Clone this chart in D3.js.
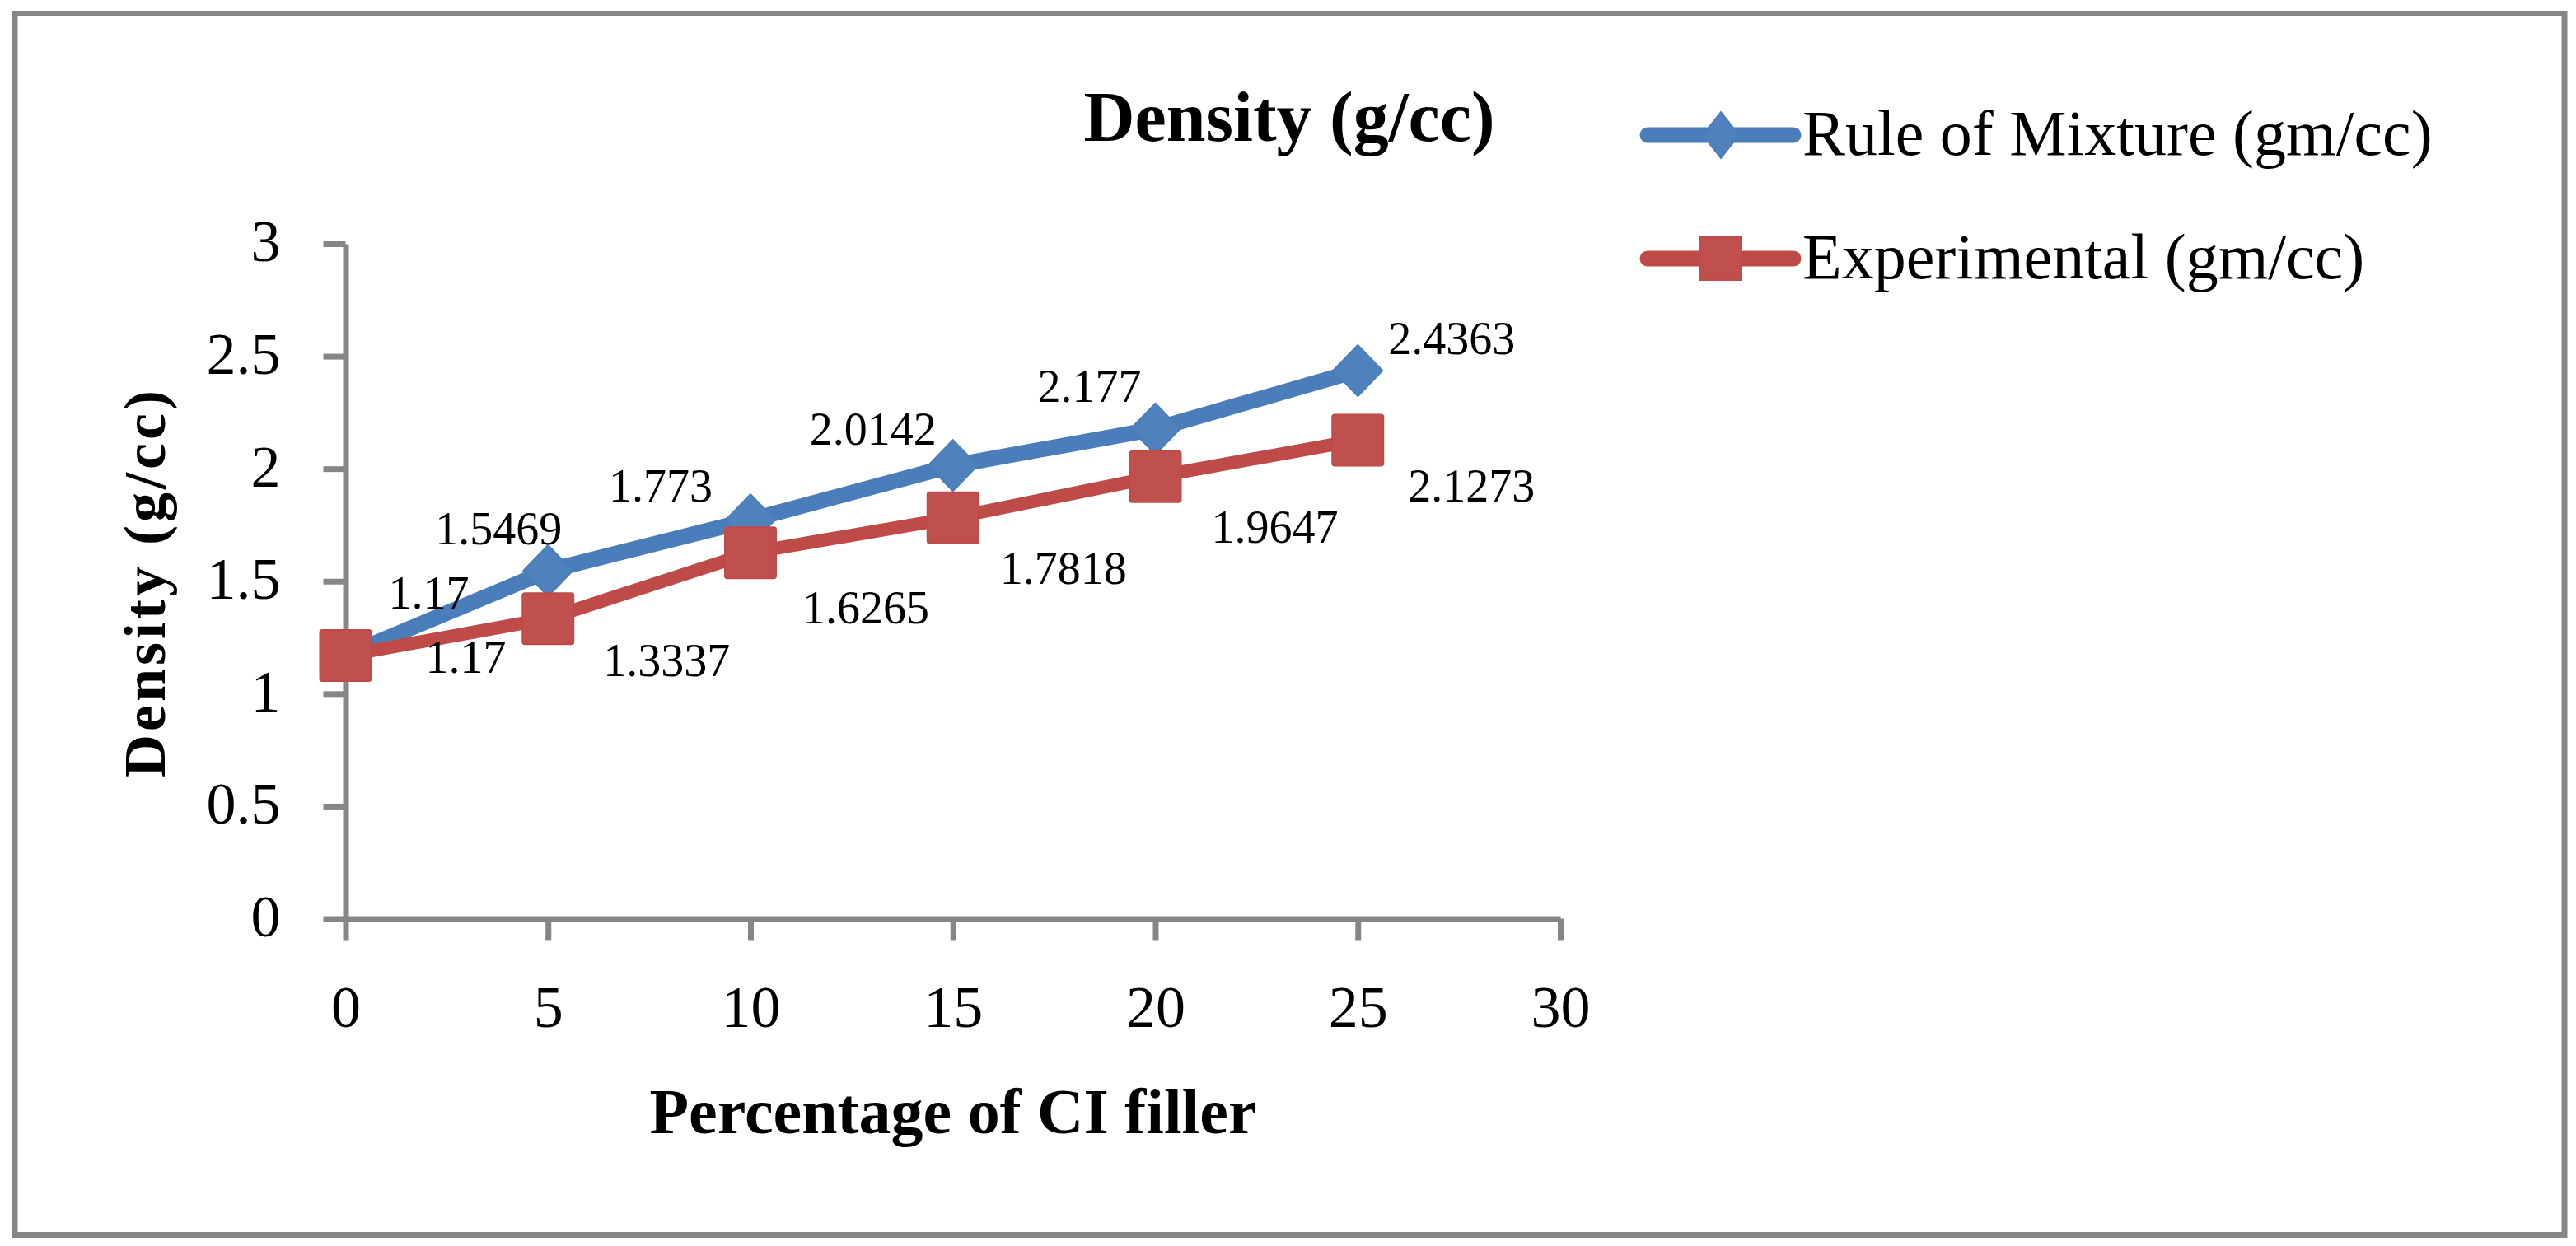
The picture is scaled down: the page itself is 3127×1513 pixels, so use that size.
<!DOCTYPE html>
<html>
<head>
<meta charset="utf-8">
<script src="https://cdn.jsdelivr.net/npm/d3@7"></script>
<style>
    html, body { margin: 0; padding: 0; background: #fff; }
    svg text { font-family: "Liberation Serif", "DejaVu Serif", serif; fill: #000; }
</style>
</head>
<body>
<svg id="chart" width="3127" height="1513"></svg>
<script>
// data
const fillerPercent = [0, 5, 10, 15, 20, 25];
const ruleOfMixture = [1.17, 1.5469, 1.773, 2.0142, 2.177, 2.4363];
const experimental = [1.17, 1.3337, 1.6265, 1.7818, 1.9647, 2.1273];
const seriesNames = ['Rule of Mixture (gm/cc)', 'Experimental (gm/cc)'];
const xTicks = [0, 5, 10, 15, 20, 25, 30];
const yTicks = [0, 0.5, 1, 1.5, 2, 2.5, 3];

// where each data label sits, relative to its point
const mixtureLabelShift = [[101, -57], [-60, -32], [-109, -22], [-97, -25], [-80, -33], [114, -20]];
const experimentalLabelShift = [[146, 21], [144, 70], [140, 86], [134, 80], [145, 80], [138, 75]];

const svg = d3.select('#chart');
const axisColor = '#868686';

const x = d3.scaleLinear().domain([0, 30]).range([419.5, 1894]);
const y = d3.scaleLinear().domain([0, 3]).range([1115.5, 296]);

// outer frame
svg.append('rect')
    .attr('x', 18).attr('y', 16.5)
    .attr('width', 3095).attr('height', 1483)
    .attr('fill', 'none')
    .attr('stroke', axisColor)
    .attr('stroke-width', 7);

// axes
const yAxis = svg.append('g')
    .attr('transform', `translate(${x(0)},0)`)
    .call(d3.axisLeft(y).tickValues(yTicks).tickSize(27).tickSizeOuter(0).tickPadding(52).tickFormat(d3.format('')));

const xAxis = svg.append('g')
    .attr('transform', `translate(0,${y(0)})`)
    .call(d3.axisBottom(x).tickValues(xTicks).tickSize(27).tickSizeOuter(0).tickPadding(0).tickFormat(d3.format('')));

[yAxis, xAxis].forEach(ax => {
    ax.select('.domain').attr('stroke', axisColor).attr('stroke-width', 7);
    ax.selectAll('.tick line').attr('stroke', axisColor).attr('stroke-width', 7);
    ax.selectAll('.tick text')
        .attr('font-family', '"Liberation Serif", serif')
        .attr('font-size', 72)
        .attr('fill', '#000');
});
yAxis.selectAll('.tick text').attr('dy', '0.29em');
xAxis.selectAll('.tick text').attr('dy', null).attr('y', 1247 - y(0));

// titles
svg.append('text')
    .attr('x', 1565).attr('y', 171)
    .attr('text-anchor', 'middle')
    .attr('font-size', 86)
    .attr('font-weight', 'bold')
    .text('Density (g/cc)');

svg.append('text')
    .attr('x', 1157).attr('y', 1376)
    .attr('text-anchor', 'middle')
    .attr('font-size', 78)
    .attr('font-weight', 'bold')
    .text('Percentage of CI filler');

svg.append('text')
    .attr('transform', 'translate(200,707) rotate(-90)')
    .attr('text-anchor', 'middle')
    .attr('font-size', 72)
    .attr('font-weight', 'bold')
    .attr('letter-spacing', 4)
    .text('Density (g/cc)');

// marker shapes
const diamondPath = (cx, cy, w, h) => {
    const p = d3.path();
    p.moveTo(cx, cy - h / 2);
    p.lineTo(cx + w / 2, cy);
    p.lineTo(cx, cy + h / 2);
    p.lineTo(cx - w / 2, cy);
    p.closePath();
    return p.toString();
};

const series = [
    { name: seriesNames[0], values: ruleOfMixture, shift: mixtureLabelShift,
      line: '#4A7EBB', fill: '#4F81BD', width: 19, marker: 'diamond' },
    { name: seriesNames[1], values: experimental, shift: experimentalLabelShift,
      line: '#BE4B48', fill: '#C0504D', width: 16, marker: 'square' }
];

const line = d3.line()
    .x(d => x(d.x))
    .y(d => y(d.y));

series.forEach(s => {
    const pts = fillerPercent.map((v, i) => ({ x: v, y: s.values[i], shift: s.shift[i] }));
    const g = svg.append('g');

    g.append('path')
        .datum(pts)
        .attr('d', line)
        .attr('fill', 'none')
        .attr('stroke', s.line)
        .attr('stroke-width', s.width)
        .attr('stroke-linejoin', 'round')
        .attr('stroke-linecap', 'round');

    if (s.marker === 'diamond') {
        g.selectAll('path.mark')
            .data(pts)
            .join('path')
            .attr('class', 'mark')
            .attr('d', d => diamondPath(x(d.x), y(d.y), 60, 62))
            .attr('fill', s.fill)
            .attr('stroke', s.line)
            .attr('stroke-width', 2);
    } else {
        g.selectAll('rect.mark')
            .data(pts)
            .join('rect')
            .attr('class', 'mark')
            .attr('x', d => x(d.x) - 31)
            .attr('y', d => y(d.y) - 31)
            .attr('width', 62).attr('height', 62)
            .attr('rx', 3)
            .attr('fill', s.fill)
            .attr('stroke', s.line)
            .attr('stroke-width', 2);
    }

    g.selectAll('text.lbl')
        .data(pts)
        .join('text')
        .attr('class', 'lbl')
        .attr('x', d => x(d.x) + d.shift[0])
        .attr('y', d => y(d.y) + d.shift[1])
        .attr('text-anchor', 'middle')
        .attr('font-size', 56)
        .text(d => d.y);
});

// legend
const legend = svg.append('g')
    .selectAll('g')
    .data(series)
    .join('g')
    .attr('transform', (d, i) => `translate(2000,${164 + i * 150})`);

legend.append('line')
    .attr('x1', 0).attr('x2', 177)
    .attr('y1', 0).attr('y2', 0)
    .attr('stroke', d => d.line)
    .attr('stroke-width', 19)
    .attr('stroke-linecap', 'round');

legend.append('path')
    .attr('d', d => d.marker === 'diamond'
        ? diamondPath(89, 0, 44, 56)
        : `M${89 - 25},${-26}h50v52h-50z`)
    .attr('fill', d => d.fill)
    .attr('stroke', d => d.line)
    .attr('stroke-width', 2);

legend.append('text')
    .attr('x', 188)
    .attr('y', 24)
    .attr('font-size', 78)
    .text(d => d.name);
</script>
</body>
</html>
